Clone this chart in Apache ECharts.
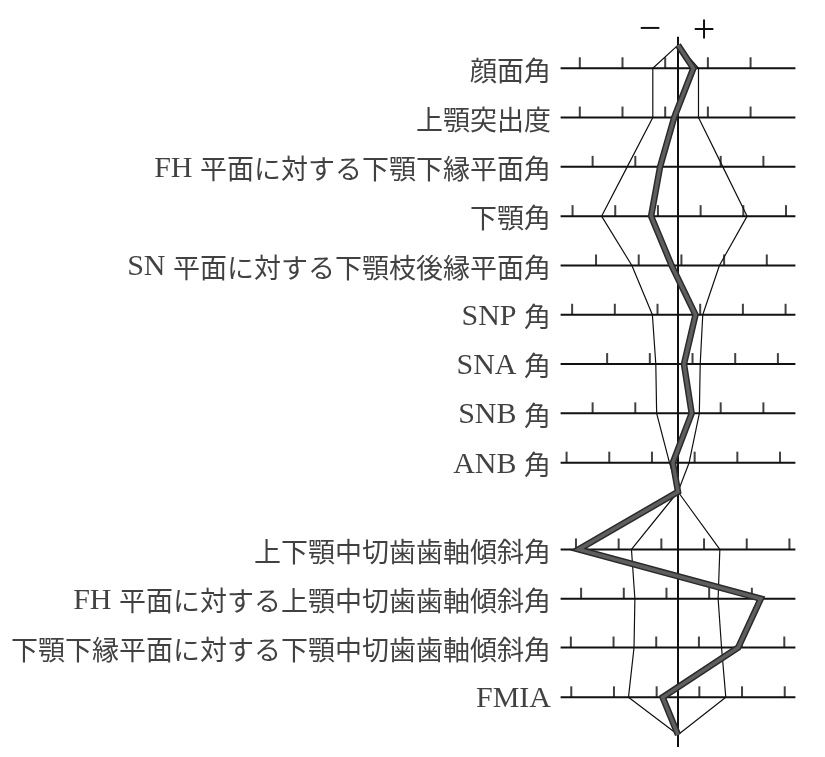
<!DOCTYPE html>
<html lang="ja" style="height: 100%">
<head>
  <meta charset="UTF-8">
  <title>polygon</title>
</head>
<body style="height: 100%; margin: 0; background: #fff">
<div id="container" style="width: 825px; height: 757px"></div>
<script type="text/javascript" src="https://cdn.jsdelivr.net/npm/echarts@6/dist/echarts.min.js"></script>

<script type="text/javascript">
  // x: tick units from the mean (one tick step), y: row index from the top
  var rowNames = [
    '顔面角', '上顎突出度', 'FH 平面に対する下顎下縁平面角', '下顎角',
    'SN 平面に対する下顎枝後縁平面角', 'SNP 角', 'SNA 角', 'SNB 角', 'ANB 角',
    '上下顎中切歯歯軸傾斜角', 'FH 平面に対する上顎中切歯歯軸傾斜角',
    '下顎下縁平面に対する下顎中切歯歯軸傾斜角', 'FMIA'
  ];
  var rowPos = [0, 1, 2, 3, 4, 5, 6, 7, 8, 9.76, 10.76, 11.75, 12.76];
  var tickOffset = [-0.30, -0.30, 0, -0.47, 0.08, -0.48, 0.34, 0, 0.39, -0.39, -0.27, -0.51, -0.50];
  var sdLow = [-0.59, -0.59, -1.19, -1.79, -1.08, -0.60, -0.52, -0.50, -0.20, -1.09, -1.01, -1.03, -1.16];
  var sdHigh = [0.48, 0.48, 1.05, 1.62, 0.97, 0.58, 0.52, 0.50, 0.26, 0.98, 0.94, 1.02, 1.12];
  var patient = [0.36, -0.09, -0.42, -0.63, -0.15, 0.41, 0.14, 0.32, -0.12, -2.33, 1.94, 1.41, -0.36];
  var apexPos = [-0.47, 8.59, 13.52]; // top, middle, bottom joints on the mean line
  var splitAfter = 8; // last row of the upper (skeletal) group

  var XMIN = -2.75, XMAX = 2.75, TICK_LIMIT = 2.65;
  var serif = "'Liberation Serif', 'DejaVu Serif', serif";
  var cjk = "'Noto Sans CJK JP', sans-serif";

  function polygon(vals) {
    var pts = [[0, apexPos[0]]];
    for (var i = 0; i < vals.length; i++) {
      pts.push([vals[i], rowPos[i]]);
      if (i === splitAfter) pts.push([0, apexPos[1]]);
    }
    pts.push([0, apexPos[2]]);
    return pts;
  }

  // latin runs in a serif face, the rest in the CJK face
  function richName(s) {
    return s.replace(/[\x20-\x7e]+|[^\x20-\x7e]+/g, function (run) {
      return /[\x20-\x7e]/.test(run[0]) ? '{l|' + run + '}' : '{c|' + run + '}';
    });
  }

  var rowLines = [];
  var ticks = [];
  rowPos.forEach(function (y, i) {
    rowLines.push([XMIN, y], [XMAX, y], ['-', '-']);
    for (var k = -4; k <= 4; k++) {
      var t = tickOffset[i] + k;
      if (Math.abs(t) <= TICK_LIMIT) ticks.push([t, y]);
    }
  });

  var dom = document.getElementById('container');
  var myChart = echarts.init(dom, null, { renderer: 'canvas' });

  var option = {
    animation: false,
    backgroundColor: '#fff',
    grid: { left: 560.6, right: 29.6, top: 23.9, bottom: 8.4 },
    xAxis: { type: 'value', min: XMIN, max: XMAX, show: false },
    yAxis: { type: 'value', min: -0.9, max: 13.8, inverse: true, show: false },
    graphic: [
      { type: 'text', x: 650, y: 30, style: { text: '−', font: '40px ' + serif, fill: '#111', align: 'center', verticalAlign: 'middle' } },
      { type: 'text', x: 704, y: 31, style: { text: '+', font: '40px ' + serif, fill: '#111', align: 'center', verticalAlign: 'middle' } }
    ],
    series: [
      {
        name: 'rows', type: 'line', data: rowLines, showSymbol: false, silent: true,
        lineStyle: { color: '#111', width: 2 }
      },
      {
        name: 'ticks', type: 'scatter', data: ticks, symbol: 'rect',
        symbolSize: [2, 11], symbolOffset: [0, -5.5], itemStyle: { color: '#111' }, silent: true
      },
      {
        name: 'center', type: 'line', data: [[0, -0.64], [0, 13.77]], showSymbol: false,
        lineStyle: { color: '#111', width: 2 }
      },
      {
        name: 'sdLow', type: 'line', data: polygon(sdLow), showSymbol: false,
        lineStyle: { color: '#111', width: 1.2 }
      },
      {
        name: 'sdHigh', type: 'line', data: polygon(sdHigh), showSymbol: false,
        lineStyle: { color: '#111', width: 1.2 }
      },
      {
        name: 'patientEdge', type: 'line', data: polygon(patient), showSymbol: false, z: 5,
        lineStyle: { color: '#2a2a2a', width: 6.5, join: 'miter' }
      },
      {
        name: 'patient', type: 'line', data: polygon(patient), showSymbol: false, z: 6,
        lineStyle: { color: '#5e5e5e', width: 3.5, join: 'miter' }
      },
      {
        name: 'labels', type: 'scatter', symbolSize: 0, silent: true,
        data: rowNames.map(function (n, i) { return { name: n, value: [XMIN, rowPos[i]] }; }),
        label: {
          show: true, position: 'left', distance: 9.6, offset: [0, 2],
          formatter: function (p) { return richName(p.name); },
          rich: {
            l: { fontFamily: serif, fontSize: 30, color: '#111' },
            c: { fontFamily: cjk, fontSize: 27, color: '#111' }
          }
        }
      }
    ]
  };
  myChart.setOption(option);
</script>
</body>
</html>
